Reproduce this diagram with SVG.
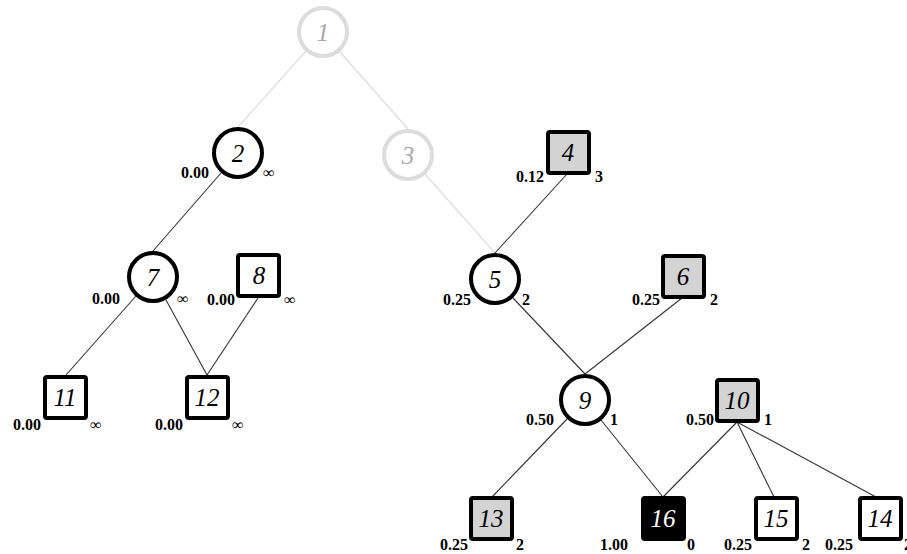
<svg xmlns="http://www.w3.org/2000/svg" width="907" height="554" viewBox="0 0 907 554">
  <style>
    .edge { stroke: #333; stroke-width: 1.1; fill: none; }
    .edge.faded { stroke: #ddd; stroke-width: 1.2; }
    .shape { stroke: #000; stroke-width: 4; fill: #fff; }
    .shape.grey { fill: #d3d3d3; }
    .shape.dark { fill: #000; }
    .shape.faded { stroke: #dcdcdc; }
    .num { font-family: "Liberation Serif", "Times New Roman", serif; font-style: italic; font-size: 25px; text-anchor: middle; fill: #000; }
    .num.faded { fill: #a8a8a8; }
    .num.light { fill: #fff; }
    .lab { font-family: "Liberation Serif", "Times New Roman", serif; font-weight: bold; font-size: 16px; fill: #000; }
    .l { text-anchor: end; }
    .r { text-anchor: start; }
  </style>
  <rect width="907" height="554" fill="#fff"/>

  <g id="connectors">
    <line class="edge faded" x1="306" y1="51" x2="238" y2="127"/>
    <line class="edge faded" x1="340" y1="52" x2="408" y2="129"/>
    <line class="edge faded" x1="425" y1="174" x2="495" y2="253"/>
    <line class="edge" x1="221" y1="173" x2="153" y2="251"/>
    <line class="edge" x1="136" y1="296" x2="66" y2="375"/>
    <line class="edge" x1="166" y1="300" x2="207" y2="375"/>
    <line class="edge" x1="258" y1="298" x2="207" y2="375"/>
    <line class="edge" x1="567" y1="174" x2="495" y2="253"/>
    <line class="edge" x1="513" y1="298" x2="585" y2="374"/>
    <line class="edge" x1="682" y1="298" x2="585" y2="374"/>
    <line class="edge" x1="567" y1="419" x2="492" y2="497"/>
    <line class="edge" x1="601" y1="420" x2="663" y2="497"/>
    <line class="edge" x1="737" y1="422" x2="663" y2="497"/>
    <line class="edge" x1="737" y1="422" x2="774" y2="497"/>
    <line class="edge" x1="737" y1="422" x2="876" y2="497"/>
  </g>

  <g id="node-1">
    <circle class="shape faded" cx="323" cy="32" r="24"/>
    <text class="num faded" x="323" y="41">1</text>
  </g>
  <g id="node-3">
    <circle class="shape faded" cx="408" cy="155" r="24"/>
    <text class="num faded" x="408" y="164">3</text>
  </g>

  <g id="node-2">
    <circle class="shape" cx="238" cy="153" r="24"/>
    <text class="num" x="238" y="162">2</text>
    <text class="lab l" x="209" y="178">0.00</text>
    <text class="lab r" x="263" y="178">∞</text>
  </g>
  <g id="node-7">
    <circle class="shape" cx="153" cy="277" r="24"/>
    <text class="num" x="153" y="286">7</text>
    <text class="lab l" x="120" y="304">0.00</text>
    <text class="lab r" x="177" y="304">∞</text>
  </g>
  <g id="node-8">
    <rect class="shape" x="238" y="255" width="41" height="41" rx="2"/>
    <text class="num" x="259" y="284">8</text>
    <text class="lab l" x="235" y="305">0.00</text>
    <text class="lab r" x="284" y="305">∞</text>
  </g>
  <g id="node-11">
    <rect class="shape" x="45" y="377" width="41" height="41" rx="2"/>
    <text class="num" x="65" y="406">11</text>
    <text class="lab l" x="41" y="430">0.00</text>
    <text class="lab r" x="90" y="430">∞</text>
  </g>
  <g id="node-12">
    <rect class="shape" x="187" y="377" width="41" height="41" rx="2"/>
    <text class="num" x="207" y="406">12</text>
    <text class="lab l" x="183" y="430">0.00</text>
    <text class="lab r" x="232" y="430">∞</text>
  </g>

  <g id="node-4">
    <rect class="shape grey" x="548" y="132" width="41" height="41" rx="2"/>
    <text class="num" x="568" y="161">4</text>
    <text class="lab l" x="544" y="182">0.12</text>
    <text class="lab r" x="595" y="182">3</text>
  </g>
  <g id="node-5">
    <circle class="shape" cx="495" cy="279" r="24"/>
    <text class="num" x="495" y="288">5</text>
    <text class="lab l" x="471" y="305">0.25</text>
    <text class="lab r" x="522" y="305">2</text>
  </g>
  <g id="node-6">
    <rect class="shape grey" x="663" y="256" width="41" height="41" rx="2"/>
    <text class="num" x="683" y="285">6</text>
    <text class="lab l" x="660" y="305">0.25</text>
    <text class="lab r" x="710" y="305">2</text>
  </g>
  <g id="node-9">
    <circle class="shape" cx="585" cy="400" r="24"/>
    <text class="num" x="585" y="409">9</text>
    <text class="lab l" x="554" y="425">0.50</text>
    <text class="lab r" x="610" y="425">1</text>
  </g>
  <g id="node-10">
    <rect class="shape grey" x="717" y="380" width="41" height="41" rx="2"/>
    <text class="num" x="737" y="409">10</text>
    <text class="lab l" x="714" y="425">0.50</text>
    <text class="lab r" x="764" y="425">1</text>
  </g>
  <g id="node-13">
    <rect class="shape grey" x="471" y="498" width="41" height="41" rx="2"/>
    <text class="num" x="491" y="527">13</text>
    <text class="lab l" x="468" y="550">0.25</text>
    <text class="lab r" x="516" y="550">2</text>
  </g>
  <g id="node-16">
    <rect class="shape dark" x="643" y="498" width="41" height="41" rx="2"/>
    <text class="num light" x="663" y="527">16</text>
    <text class="lab l" x="628" y="550">1.00</text>
    <text class="lab r" x="687" y="550">0</text>
  </g>
  <g id="node-15">
    <rect class="shape" x="756" y="498" width="41" height="41" rx="2"/>
    <text class="num" x="776" y="527">15</text>
    <text class="lab l" x="752" y="550">0.25</text>
    <text class="lab r" x="802" y="550">2</text>
  </g>
  <g id="node-14">
    <rect class="shape" x="860" y="498" width="41" height="41" rx="2"/>
    <text class="num" x="880" y="527">14</text>
    <text class="lab l" x="853" y="550">0.25</text>
    <text class="lab r" x="904" y="550">2</text>
  </g>
</svg>
